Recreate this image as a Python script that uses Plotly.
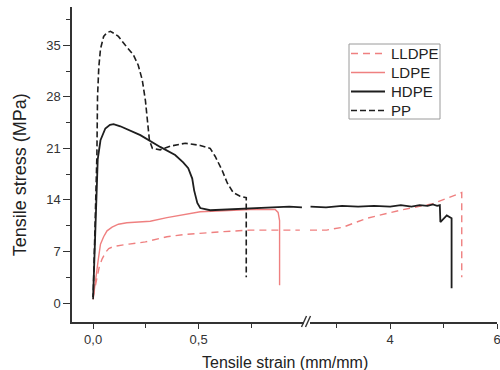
import plotly.graph_objects as go

# ---- data (strain mm/mm, stress MPa) ----
lldpe_strain = [0.0, 0.01, 0.019, 0.03, 0.043, 0.06, 0.074, 0.1, 0.121, 0.17, 0.248, 0.35, 0.43, 0.508,
                0.62, 0.745, 0.85, 0.98, 2.5, 2.81, 3.12, 3.56, 4.19, 4.80, 5.34, 5.34]
lldpe_stress = [0.8, 2.0, 3.5, 5.0, 6.0, 6.9, 7.4, 7.7, 7.8, 8.0, 8.3, 9.0, 9.3, 9.5,
                9.7, 9.9, 9.9, 9.9, 9.9, 9.9, 10.3, 11.5, 12.6, 13.5, 15.0, 3.5]

ldpe_strain = [0.0, 0.008, 0.015, 0.025, 0.035, 0.05, 0.066, 0.09, 0.12, 0.16, 0.2, 0.271, 0.35, 0.43,
               0.508, 0.59, 0.665, 0.745, 0.82, 0.863, 0.877, 0.884, 0.884]
ldpe_stress = [0.5, 2.0, 3.8, 6.0, 8.0, 9.0, 9.8, 10.3, 10.7, 10.9, 11.0, 11.1, 11.6, 12.0,
               12.4, 12.5, 12.6, 12.7, 12.7, 12.7, 12.3, 11.2, 2.4]

hdpe_strain = [0.0, 0.01, 0.018, 0.022, 0.035, 0.058, 0.080, 0.097, 0.129, 0.224, 0.318, 0.389, 0.427,
               0.451, 0.470, 0.479, 0.494, 0.508, 0.555, 0.65, 0.745, 0.85, 0.93, 0.99,
               2.51, 2.8, 3.1, 3.4, 3.7, 4.0, 4.2, 4.4, 4.55, 4.7, 4.8, 4.88, 4.93, 4.94, 5.06, 5.15, 5.15]
hdpe_stress = [0.8, 9.0, 17.0, 19.5, 22.1, 23.7, 24.2, 24.3, 24.0, 22.8, 21.2, 20.1, 19.1,
               18.3, 16.9, 15.3, 13.6, 12.9, 12.6, 12.7, 12.9, 13.0, 13.1, 13.0,
               13.1, 13.0, 13.2, 13.1, 13.2, 13.1, 13.3, 13.1, 13.3, 13.2, 13.4, 13.2, 13.3, 11.0, 11.9, 11.5, 2.0]

pp_strain = [0.0, 0.01, 0.018, 0.021, 0.027, 0.035, 0.05, 0.065, 0.082, 0.10, 0.120, 0.153, 0.191, 0.214,
             0.233, 0.248, 0.257, 0.267, 0.281, 0.318, 0.366, 0.437, 0.508, 0.555, 0.579, 0.612, 0.636,
             0.664, 0.697, 0.726, 0.726]
pp_stress = [0.5, 10.0, 20.0, 28.0, 32.0, 34.5, 36.2, 36.7, 36.9, 36.6, 36.2, 35.0, 33.7, 32.3,
             30.3, 27.5, 24.8, 22.1, 21.0, 20.8, 21.3, 21.7, 21.4, 21.0, 19.9, 18.0, 16.3,
             15.0, 14.5, 14.3, 3.5]

series_names = ["LLDPE", "LDPE", "HDPE", "PP"]
left_ticks = [0.0, 0.5]
left_tick_labels = ["0,0", "0,5"]
right_ticks = [4, 6]
right_tick_labels = ["4", "6"]
y_ticks = [0, 7, 14, 21, 28, 35]

BREAK_LO, BREAK_HI = 1.0, 2.5

PINK = "#ef8080"
BLACK = "#1e1e1e"
styles = {
    "LLDPE": dict(color=PINK, width=1.4, dash="7px,5px"),
    "LDPE": dict(color=PINK, width=1.4),
    "HDPE": dict(color=BLACK, width=1.8),
    "PP": dict(color=BLACK, width=1.6, dash="6px,3px"),
}
data = {
    "LLDPE": (lldpe_strain, lldpe_stress),
    "LDPE": (ldpe_strain, ldpe_stress),
    "HDPE": (hdpe_strain, hdpe_stress),
    "PP": (pp_strain, pp_stress),
}

fig = go.Figure()
for name in series_names:
    xs, ys = data[name]
    lx = [x for x in xs if x <= BREAK_LO]
    ly = [y for x, y in zip(xs, ys) if x <= BREAK_LO]
    rx = [x for x in xs if x >= BREAK_HI]
    ry = [y for x, y in zip(xs, ys) if x >= BREAK_HI]
    fig.add_trace(go.Scatter(x=lx, y=ly, mode="lines", name=name, line=styles[name],
                             xaxis="x", yaxis="y", showlegend=False))
    if rx:
        fig.add_trace(go.Scatter(x=rx, y=ry, mode="lines", name=name, line=styles[name],
                                 xaxis="x2", yaxis="y", showlegend=False))

FONT = "Liberation Sans, Arial, sans-serif"
AX = "#333333"
common = dict(showline=True, linecolor=AX, linewidth=1.5, ticks="outside", ticklen=5,
              tickwidth=1.2, tickcolor=AX, showgrid=False, zeroline=False, automargin=False,
              ticklabeloverflow="allow",
              tickfont=dict(family=FONT, size=13, color="#333333"))

fig.update_layout(
    width=500, height=370,
    margin=dict(l=72, r=3, t=7, b=48, autoexpand=False),
    paper_bgcolor="white", plot_bgcolor="white",
    xaxis=dict(domain=[0, 0.546], range=[-0.1, BREAK_LO], anchor="y",
               tickmode="array", tickvals=left_ticks, ticktext=left_tick_labels,
               minor=dict(tickvals=[0.25, 0.75], ticklen=4, ticks="outside", tickcolor=AX, tickwidth=1.2),
               **common),
    xaxis2=dict(domain=[0.56, 1], range=[BREAK_HI, 6.0], anchor="y",
                tickmode="array", tickvals=right_ticks, ticktext=right_tick_labels,
                minor=dict(tickvals=[3, 5], ticklen=4, ticks="outside", tickcolor=AX, tickwidth=1.2),
                **common),
    yaxis=dict(range=[-2.58, 40.2], anchor="x", tickmode="array", tickvals=y_ticks,
               minor=dict(tickvals=[3.5, 10.5, 17.5, 24.5, 31.5, 38.5], ticklen=4, ticks="outside",
                          tickcolor=AX, tickwidth=1.2),
               **{**common, "ticklen": 7}),
    showlegend=False,
)

# pixel -> paper helpers (plot area: x 72..497, y 7..322)
pw, ph = 425.0, 315.0
def px(xp):
    return (xp - 72) / pw
def py(yp):
    return (322.0 - yp) / ph

# axis titles
fig.add_annotation(text="Tensile strain (mm/mm)", xref="paper", yref="paper", x=0.5, y=0,
                   yshift=-40, xanchor="center", yanchor="middle", showarrow=False,
                   font=dict(family=FONT, size=16, color="#222222"))
fig.add_annotation(text="Tensile stress (MPa)", xref="paper", yref="paper", x=0, y=0.466,
                   xshift=-52, xanchor="center", yanchor="middle", textangle=-90, showarrow=False,
                   font=dict(family=FONT, size=18, color="#222222"))

# axis break marks "//"
for x0 in (301.5, 305.5):
    fig.add_shape(type="line", xref="paper", yref="paper",
                  x0=px(x0), y0=py(327), x1=px(x0 + 5), y1=py(316),
                  line=dict(color=AX, width=1.4))

# legend box (drawn to match the reference's compact spacing)
fig.add_shape(type="rect", xref="paper", yref="paper", x0=px(349), x1=px(440), y0=py(119), y1=py(44),
              line=dict(color="#9a9a9a", width=1), fillcolor="white", layer="above")
for i, name in enumerate(series_names):
    yc = 53.5 + 19 * i
    st = styles[name]
    fig.add_shape(type="line", xref="paper", yref="paper", x0=px(351), x1=px(385), y0=py(yc), y1=py(yc),
                  line=dict(color=st["color"], width=st["width"], dash=st.get("dash", "solid")),
                  layer="above")
    fig.add_annotation(text=name, xref="paper", yref="paper", x=px(389), y=py(yc),
                       xanchor="left", yanchor="middle", showarrow=False,
                       font=dict(family=FONT, size=15, color="#222222"))

fig.write_html("out.html", config={"displayModeBar": False},
               post_script="document.body.style.margin='0px';document.body.style.overflow='hidden';")
